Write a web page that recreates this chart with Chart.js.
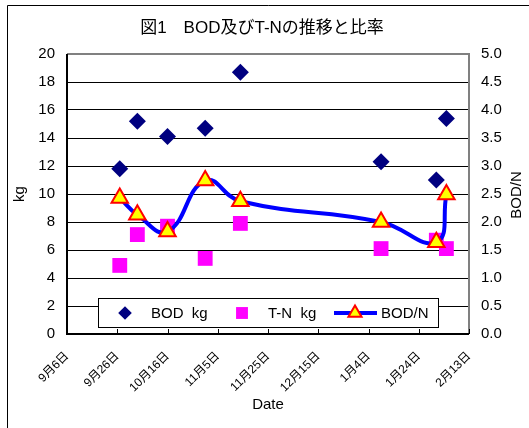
<!DOCTYPE html>
<html lang="ja">
<head>
<meta charset="UTF-8">
<title>図1 BOD及びT-Nの推移と比率</title>
<script src="https://cdn.jsdelivr.net/npm/chart.js"></script>
<style>
  body { margin: 0; background: #fff; }
  #wrap { width: 529px; height: 428px; }
</style>
</head>
<body>
<div id="wrap"><canvas id="bodChart" width="529" height="428"></canvas></div>
<script>
// --- data ---
const startDate = '2006-09-06';   // first tick on the date axis
const sampleDates = ['2006-09-27', '2006-10-04', '2006-10-16', '2006-10-31',
                     '2006-11-14', '2007-01-09', '2007-01-31', '2007-02-04'];
const bodKg   = [11.8, 15.2, 14.1, 14.7, 18.7, 12.3, 11.0, 15.4];
const tnKg    = [4.9, 7.1, 7.7, 5.4, 7.9, 6.1, 6.7, 6.1];
const bodPerN = [2.43, 2.13, 1.83, 2.74, 2.37, 2.0, 1.64, 2.49];
const dateTickLabels = ['9月6日', '9月26日', '10月16日', '11月5日', '11月25日',
                        '12月15日', '1月4日', '1月24日', '2月13日'];

const FONT = '"Liberation Sans", "Noto Sans CJK JP", sans-serif';

// days counted from the first axis tick
function dayOf(s) {
  const p = s.split('-').map(Number), b = startDate.split('-').map(Number);
  return (Date.UTC(p[0], p[1] - 1, p[2]) - Date.UTC(b[0], b[1] - 1, b[2])) / 86400000;
}
const xs = sampleDates.map(dayOf);
const pts = arr => arr.map((v, i) => ({ x: xs[i], y: v }));

const styleBod = { pointStyle: 'rectRot', radius: 8.5, bg: '#000080', border: '#000080', bw: 0 };
const styleTn  = { pointStyle: 'rect', radius: 10.5, bg: '#ff00ff', border: '#ff00ff', bw: 0 };
const styleRat = { pointStyle: 'triangle', radius: 9.5, bg: '#ffff00', border: '#ff0000', bw: 2 };

const decor = {
  id: 'decor',
  beforeDraw(chart) {
    const ctx = chart.ctx;
    ctx.save();
    ctx.fillStyle = '#fff';
    ctx.fillRect(0, 0, chart.width, chart.height);
    // outer frame (runs off the right and bottom edges)
    ctx.strokeStyle = '#000';
    ctx.lineWidth = 1;
    ctx.beginPath();
    ctx.moveTo(7.5, chart.height);
    ctx.lineTo(7.5, 5.5);
    ctx.lineTo(chart.width, 5.5);
    ctx.stroke();
    ctx.restore();
  },
  afterDraw(chart) {
    const { ctx, chartArea: a } = chart;
    const xScale = chart.scales.x;
    ctx.save();
    // plot border
    ctx.lineWidth = 2;
    ctx.strokeStyle = '#808080';
    ctx.beginPath();
    ctx.moveTo(a.left, a.top); ctx.lineTo(a.right, a.top); ctx.lineTo(a.right, a.bottom);
    ctx.stroke();
    ctx.strokeStyle = '#000';
    ctx.beginPath();
    ctx.moveTo(a.left, a.top); ctx.lineTo(a.left, a.bottom); ctx.lineTo(a.right, a.bottom);
    ctx.stroke();
    // x tick marks (inside)
    ctx.lineWidth = 1;
    xScale.ticks.forEach(t => {
      const px = Math.round(xScale.getPixelForValue(t.value)) + 0.5;
      ctx.beginPath();
      ctx.moveTo(px, a.bottom);
      ctx.lineTo(px, a.bottom - 5);
      ctx.stroke();
    });

    // legend box
    const lx = 98.5, ly = 298.5, lw = 340, lh = 29;
    ctx.fillStyle = '#fff';
    ctx.fillRect(lx, ly, lw, lh);
    ctx.strokeStyle = '#000';
    ctx.strokeRect(lx, ly, lw, lh);
    const cy = ly + lh / 2;
    const mark = (s, x) => {
      ctx.fillStyle = s.bg; ctx.strokeStyle = s.border;
      Chart.helpers.drawPoint(ctx, { pointStyle: s.pointStyle, radius: s.radius * 0.8, rotation: 0, borderWidth: s.bw }, x, cy);
    };
    mark(styleBod, 125);
    mark(styleTn, 242);
    ctx.strokeStyle = '#0000ff';
    ctx.lineWidth = 4;
    ctx.beginPath(); ctx.moveTo(334, cy); ctx.lineTo(377, cy); ctx.stroke();
    ctx.lineWidth = 2;
    mark(styleRat, 355);
    ctx.fillStyle = '#000';
    ctx.font = '15px ' + FONT;
    ctx.textBaseline = 'middle';
    ctx.textAlign = 'left';
    ctx.fillText('BOD  kg', 151, cy + 1);
    ctx.fillText('T-N  kg', 268, cy + 1);
    ctx.fillText('BOD/N', 381, cy + 1);

    // titles
    ctx.textAlign = 'center';
    ctx.font = '17px ' + FONT;
    ctx.fillText('図1　BOD及びT-Nの推移と比率', 262, 28);
    ctx.font = '15px ' + FONT;
    ctx.fillText('Date', 268, 405);
    ctx.save();
    ctx.translate(20, 194);
    ctx.rotate(-Math.PI / 2);
    ctx.fillText('kg', 0, 0);
    ctx.restore();
    ctx.save();
    ctx.translate(517, 195);
    ctx.rotate(-Math.PI / 2);
    ctx.fillText('BOD/N', 0, 0);
    ctx.restore();
    ctx.restore();
  }
};

const ds = (label, data, s, extra) => Object.assign({
  label: label,
  data: data,
  pointStyle: s.pointStyle,
  pointRadius: s.radius,
  pointHoverRadius: s.radius,
  pointBackgroundColor: s.bg,
  pointBorderColor: s.border,
  pointBorderWidth: s.bw,
  showLine: false
}, extra);

new Chart(document.getElementById('bodChart'), {
  type: 'scatter',
  data: {
    datasets: [
      ds('BOD  kg', pts(bodKg), styleBod, { yAxisID: 'y', order: 3 }),
      ds('T-N  kg', pts(tnKg), styleTn, { yAxisID: 'y', order: 2 }),
      ds('BOD/N', pts(bodPerN), styleRat, {
        yAxisID: 'y2', order: 1, showLine: true, borderColor: '#0000ff',
        borderWidth: 4, tension: 0.45, fill: false
      })
    ]
  },
  options: {
    responsive: false,
    animation: false,
    layout: { padding: { top: 54, left: 0, right: 0, bottom: 0 } },
    plugins: { legend: { display: false }, title: { display: false }, tooltip: { enabled: false } },
    scales: {
      x: {
        type: 'linear', min: 0, max: 160,
        afterFit: s => { s.height = 94; },
        grid: { display: false },
        border: { display: false },
        ticks: {
          stepSize: 20, minRotation: 45, maxRotation: 45, padding: 7,
          color: '#000', font: { family: FONT, size: 12 },
          callback: (v, i) => dateTickLabels[i]
        }
      },
      y: {
        position: 'left', min: 0, max: 20,
        afterFit: s => { s.width = 67; },
        grid: { color: '#000', lineWidth: 1, drawTicks: false },
        border: { display: false },
        ticks: { stepSize: 2, padding: 12, color: '#000', font: { family: FONT, size: 15 } }
      },
      y2: {
        position: 'right', min: 0, max: 5,
        afterFit: s => { s.width = 60; },
        grid: { display: false, drawTicks: false },
        border: { display: false },
        ticks: {
          stepSize: 0.5, padding: 12, color: '#000', font: { family: FONT, size: 15 },
          callback: v => v.toFixed(1)
        }
      }
    }
  },
  plugins: [decor]
});
</script>
</body>
</html>
